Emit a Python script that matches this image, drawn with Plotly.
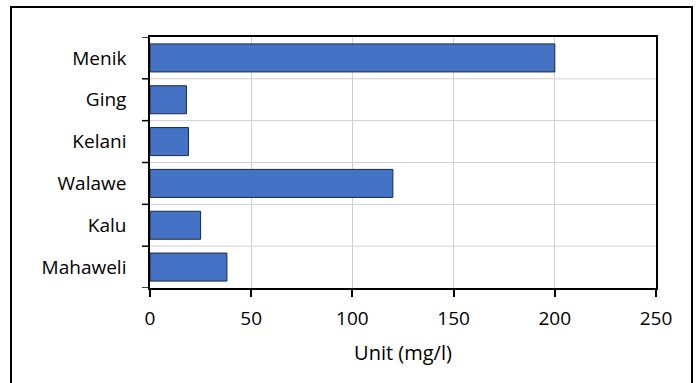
import plotly.graph_objects as go

categories = ["Mahaweli", "Kalu", "Walawe", "Kelani", "Ging", "Menik"]
values = [38, 25, 120, 19, 18, 200]
x_ticks = [0, 50, 100, 150, 200, 250]

L, R, T, B = 150, 44, 37, 95
W, H = 700, 383
pw, ph = W - L - R, H - T - B

fig = go.Figure(go.Bar(
    y=categories, x=values, orientation="h",
    marker=dict(color="#4472C4", line=dict(color="#1a2a48", width=1)),
    width=0.67,
))

font = dict(family="Open Sans, Noto Sans, sans-serif", size=19, color="#000000")
title_font = dict(family="Open Sans, Noto Sans, sans-serif", size=20, color="#000000")

fig.update_layout(
    width=W, height=H,
    margin=dict(l=L, r=R, t=T, b=B, pad=0),
    paper_bgcolor="white", plot_bgcolor="white",
    font=font,
    showlegend=False,
    xaxis=dict(
        range=[0, 250], tickvals=x_ticks, ticktext=[str(v) for v in x_ticks],
        showgrid=True, gridcolor="#d0d0d0", gridwidth=1,
        showline=True, linecolor="black", linewidth=1.5, mirror=True,
        ticks="outside", ticklen=7, tickcolor="black", tickwidth=1.5,
        zeroline=False,
        title=dict(text="Unit (mg/l)", font=title_font, standoff=16),
        tickfont=font, ticklabelstandoff=5,
    ),
    yaxis=dict(
        categoryorder="array", categoryarray=categories,
        range=[-0.5, 5.5],
        showgrid=False,
        showline=True, linecolor="black", linewidth=1.5, mirror=True,
        ticks="", tickfont=font, ticklabelstandoff=18,
    ),
)

shapes = []
for i in range(1, len(categories)):
    yb = i - 0.5
    shapes.append(dict(type="line", xref="x", yref="y", x0=0, x1=250, y0=yb, y1=yb,
                       line=dict(color="#d0d0d0", width=1), layer="below"))
for i in range(len(categories) + 1):
    yb = i - 0.5
    shapes.append(dict(type="line", xref="paper", yref="y", x0=-8 / pw, x1=0, y0=yb, y1=yb,
                       line=dict(color="black", width=1.5)))

shapes.append(dict(type="rect", xref="paper", yref="paper",
                   x0=(11 - L) / pw, x1=(692 - L) / pw,
                   y0=(T + ph - 395) / ph, y1=(T + ph - 7) / ph,
                   line=dict(color="black", width=2), fillcolor="rgba(0,0,0,0)"))
fig.update_layout(shapes=shapes)

fig.write_html(
    "out.html",
    config={"displayModeBar": False},
    post_script="document.body.style.margin='0';document.body.style.overflow='hidden';",
)
